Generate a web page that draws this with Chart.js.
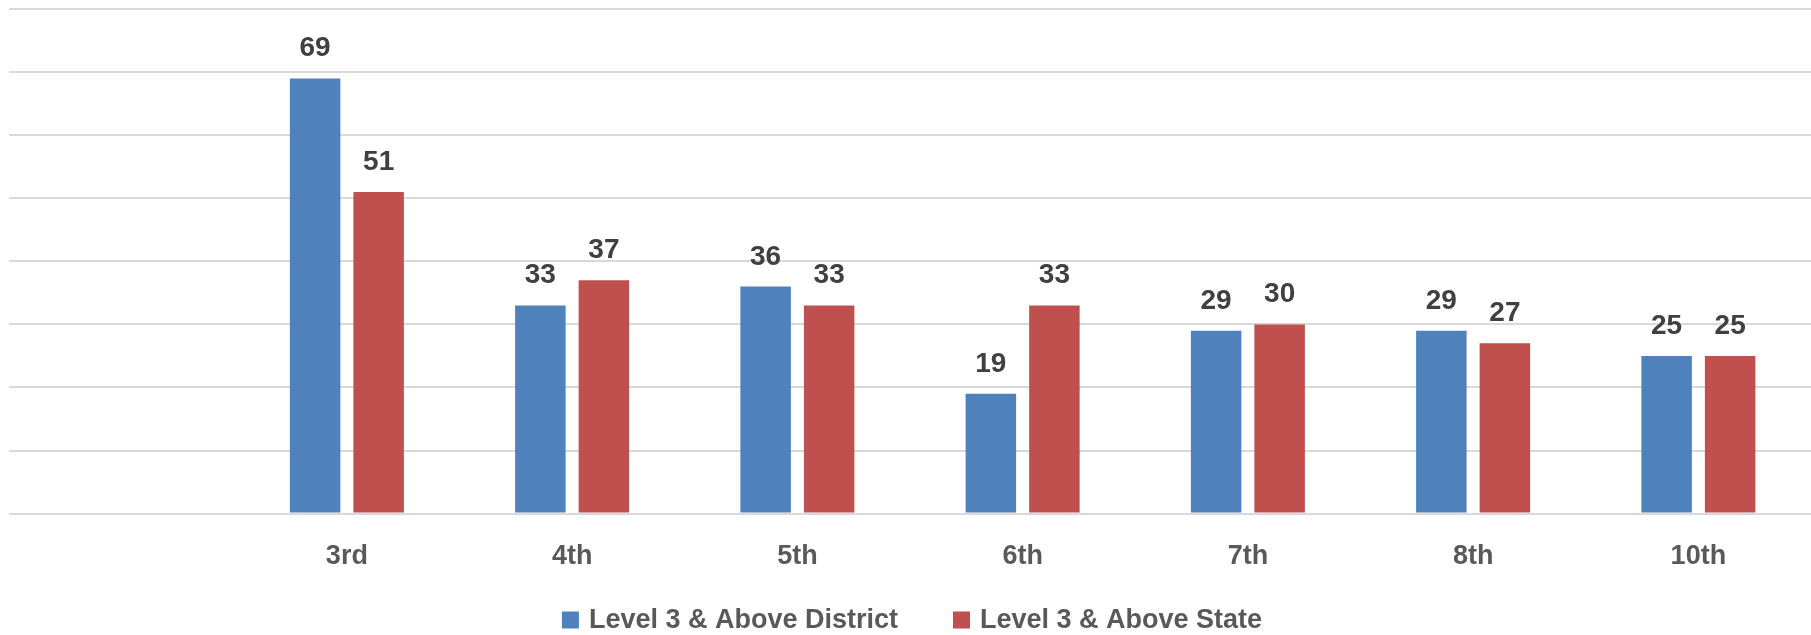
<!DOCTYPE html>
<html>
<head>
<meta charset="utf-8">
<title>Level 3 &amp; Above by Grade</title>
<script src="https://cdn.jsdelivr.net/npm/chart.js@4.4.1/dist/chart.umd.min.js"></script>
<style>
  html, body { margin: 0; padding: 0; background: #ffffff; }
  #wrap { position: relative; width: 1811px; height: 635px; }
</style>
</head>
<body>
<div id="wrap"><canvas id="chart"></canvas></div>
<script>
// Grade levels (the first slot is left blank on purpose)
const grades = ['', '3rd', '4th', '5th', '6th', '7th', '8th', '10th'];

// Percent of students at Level 3 & above
const districtValues = [null, 69, 33, 36, 19, 29, 29, 25];
const stateValues = [null, 51, 37, 33, 33, 30, 27, 25];

const seriesNames = ['Level 3 & Above District', 'Level 3 & Above State'];
const seriesColors = ['#4f81bd', '#c0504d'];

const FONT = '"Liberation Sans", Arial, sans-serif';

// Value labels above each bar
const valueLabels = {
  id: 'valueLabels',
  afterDatasetsDraw(chart) {
    const ctx = chart.ctx;
    ctx.save();
    ctx.font = 'bold 28px ' + FONT;
    ctx.fillStyle = '#404040';
    ctx.textAlign = 'center';
    ctx.textBaseline = 'alphabetic';
    chart.data.datasets.forEach((ds, i) => {
      const meta = chart.getDatasetMeta(i);
      meta.data.forEach((bar, j) => {
        const v = ds.data[j];
        if (v === null || v === undefined) return;
        ctx.fillText(String(v), bar.x, bar.y - 22);
      });
    });
    ctx.restore();
  }
};

// Legend row along the bottom edge
const bottomLegend = {
  id: 'bottomLegend',
  afterDraw(chart) {
    const ctx = chart.ctx;
    const box = 17, gap = 10, spacing = 55;
    ctx.save();
    ctx.font = 'bold 27px ' + FONT;
    const items = chart.data.datasets.map(ds => ({
      text: ds.label,
      color: ds.backgroundColor,
      w: box + gap + ctx.measureText(ds.label).width
    }));
    const total = items.reduce((s, it) => s + it.w, 0) + spacing * (items.length - 1);
    const area = chart.chartArea;
    let x = (area.left + area.right) / 2 - total / 2 + 2;
    const cy = 620;
    items.forEach(it => {
      ctx.fillStyle = it.color;
      ctx.fillRect(x, cy - box / 2, box, box);
      ctx.fillStyle = '#595959';
      ctx.textAlign = 'left';
      ctx.textBaseline = 'middle';
      ctx.fillText(it.text, x + box + gap, cy + 1);
      x += it.w + spacing;
    });
    ctx.restore();
  }
};

new Chart(document.getElementById('chart'), {
  type: 'bar',
  data: {
    labels: grades,
    datasets: [
      { label: seriesNames[0], data: districtValues, backgroundColor: seriesColors[0] },
      { label: seriesNames[1], data: stateValues, backgroundColor: seriesColors[1] }
    ]
  },
  options: {
    responsive: true,
    maintainAspectRatio: false,
    animation: false,
    categoryPercentage: 0.564,
    barPercentage: 0.795,
    layout: { padding: { top: 9, left: 9, right: 0, bottom: 35 } },
    plugins: {
      legend: { display: false },
      tooltip: { enabled: false }
    },
    scales: {
      x: {
        grid: { display: false, drawTicks: false },
        border: { display: false },
        ticks: {
          font: { family: FONT, size: 27, weight: 'bold' },
          color: '#595959',
          padding: 27,
          maxRotation: 0,
          autoSkip: false
        }
      },
      y: {
        min: 0,
        max: 80,
        grid: { color: '#d9d9d9', lineWidth: 2, drawTicks: false },
        border: { display: false },
        ticks: { display: false, stepSize: 10 }
      }
    }
  },
  plugins: [valueLabels, bottomLegend]
});
</script>
</body>
</html>
